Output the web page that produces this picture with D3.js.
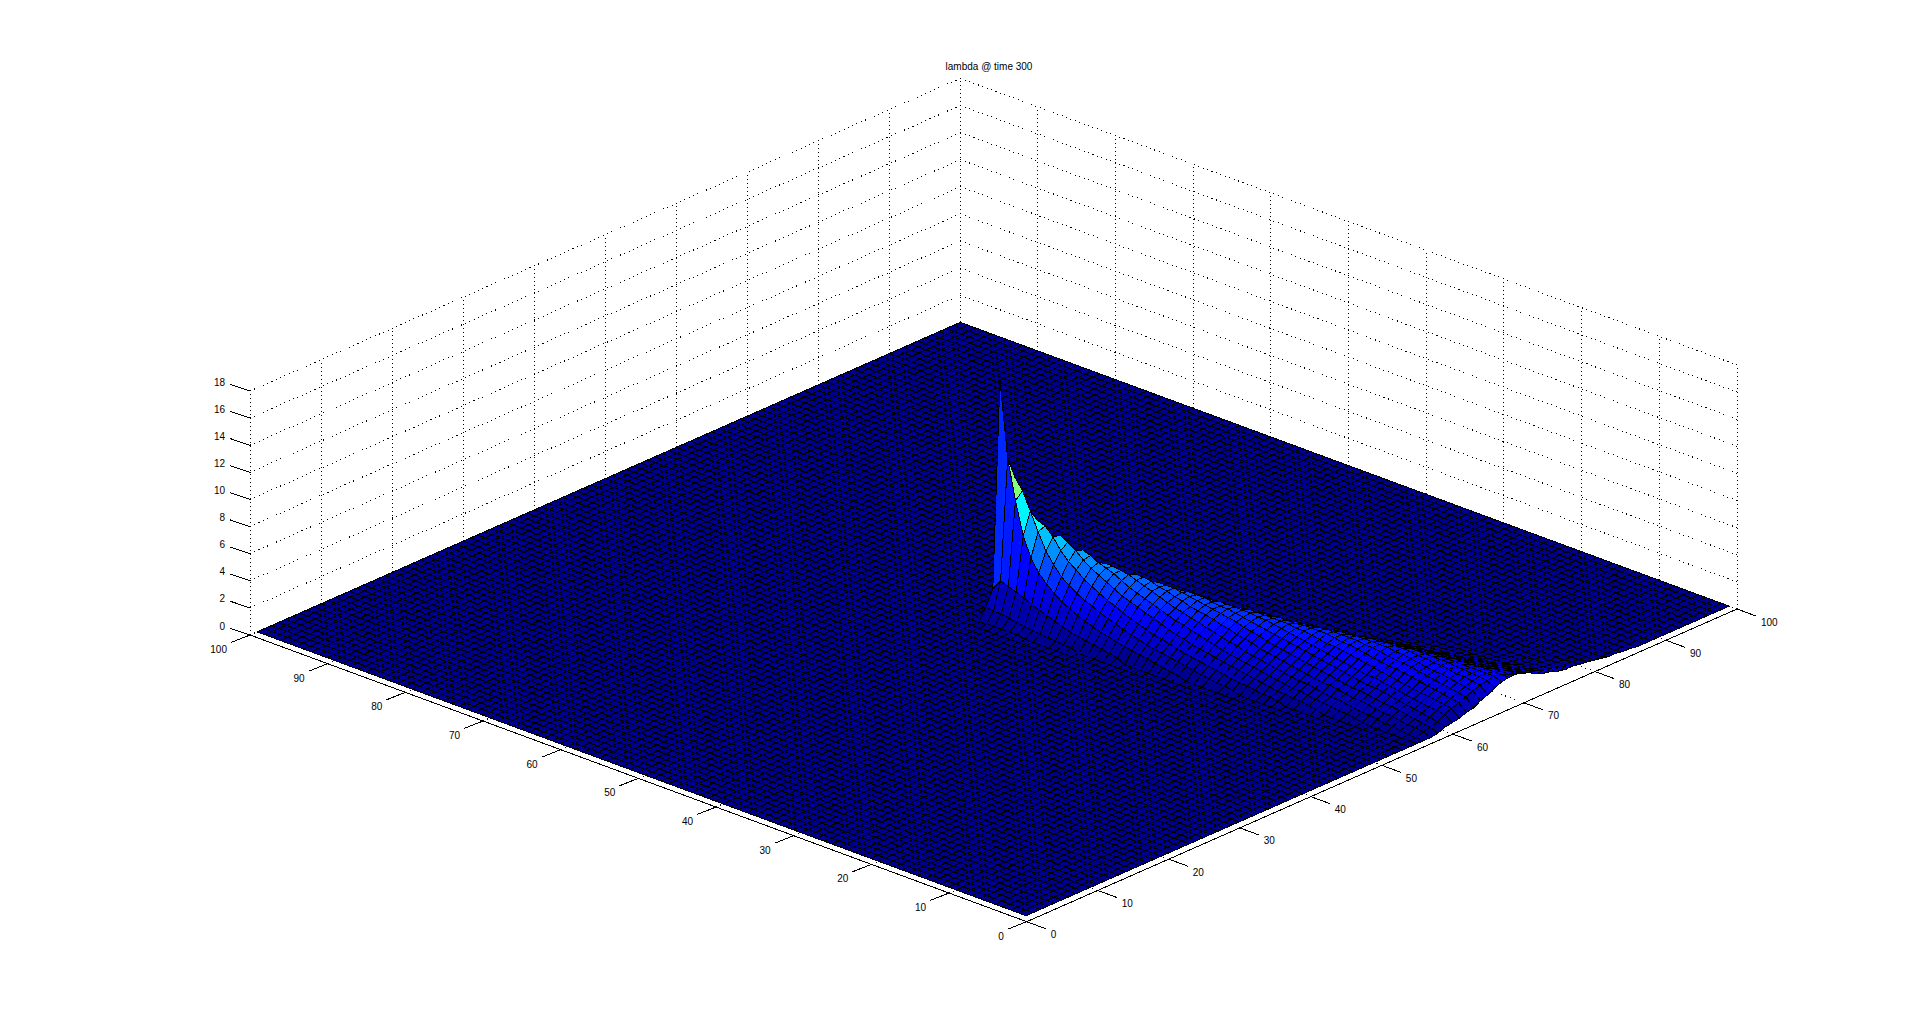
<!DOCTYPE html>
<html>
<head>
<meta charset="utf-8">
<script src="https://d3js.org/d3.v7.min.js"></script>
<style>
body { margin: 0; background: #fff; }
svg { display: block; }
text { font-family: "Liberation Sans", sans-serif; font-size: 10px; fill: #000; }
</style>
</head>
<body>
<svg id="chart" width="1920" height="1035"></svg>
<script>
const TITLE = 'lambda @ time 300';
const xy_ticks = [0, 10, 20, 30, 40, 50, 60, 70, 80, 90, 100];
const z_ticks = [0, 2, 4, 6, 8, 10, 12, 14, 16, 18];
const GRID_SIZE = 100;

// lambda, everything outside this patch is 0
// first v of the patch is 51, one row per v going down to 1
const plume_start_u = [49,49,49,49,49,49,49,50,50,50,50,50,51,51,51,51,51,52,52,52,52,52,52,52,53,53,53,53,53,53,54,54,54,54,54,55,55,55,55,56,56,56,56,56,57,57,57,57,58,58,58];
const plume_rows = [
    [0,0.9,2.0,17.2,0.6,0.1],
    [0.1,0.8,2.8,11.6,10.0,1.5,0.2],
    [0.1,0.8,2.6,8.7,9.2,4.0,0.8,0.1],
    [0.1,0.7,2.4,6.3,7.9,7.0,2.5,0.5],
    [0.1,0.6,2.2,4.9,6.6,6.8,4.5,1.2,0.2],
    [0.1,0.5,1.9,4.0,5.4,6.2,6.1,3.0,0.8,0.1],
    [0,0.4,1.7,3.4,4.6,5.4,5.8,4.8,1.8,0.4,0.1],
    [0.4,1.5,2.9,3.9,4.8,5.4,5.2,3.2,1.0,0.2],
    [0.3,1.3,2.5,3.5,4.4,4.9,5.0,4.2,2.0,0.5,0.1],
    [0.3,1.1,2.2,3.1,3.9,4.5,4.7,4.4,3.0,1.1,0.3],
    [0.2,0.9,1.9,2.8,3.6,4.2,4.5,4.4,3.5,1.8,0.6,0.1],
    [0.2,0.8,1.7,2.6,3.3,3.9,4.3,4.3,3.8,2.5,1.0,0.3],
    [0.7,1.5,2.3,3.0,3.6,4.0,4.2,4.0,3.1,1.6,0.6,0.1],
    [0.6,1.3,2.1,2.8,3.3,3.7,4.0,4.0,3.4,2.2,0.9,0.3],
    [0.5,1.2,1.9,2.5,3.1,3.5,3.8,3.9,3.6,2.7,1.4,0.5,0.1],
    [0.4,1.0,1.7,2.3,2.9,3.3,3.6,3.7,3.6,3.0,1.9,0.8,0.2],
    [0.3,0.9,1.5,2.1,2.7,3.1,3.4,3.6,3.6,3.2,2.3,1.2,0.4,0.1],
    [0.8,1.4,1.9,2.5,2.9,3.2,3.4,3.5,3.3,2.6,1.6,0.7,0.2],
    [0.7,1.2,1.7,2.3,2.7,3.0,3.3,3.4,3.3,2.8,2.0,1.0,0.4,0.1],
    [0.6,1.1,1.6,2.1,2.5,2.9,3.1,3.3,3.3,2.9,2.3,1.4,0.6,0.2],
    [0.5,1.0,1.5,1.9,2.4,2.7,3.0,3.2,3.2,3.0,2.5,1.7,0.9,0.3,0.1],
    [0.4,0.9,1.3,1.8,2.2,2.6,2.9,3.1,3.1,3.0,2.6,2.0,1.2,0.5,0.2],
    [0.3,0.8,1.2,1.6,2.1,2.4,2.8,3.0,3.1,3.0,2.7,2.2,1.5,0.8,0.3,0.1],
    [0.2,0.7,1.1,1.5,1.9,2.3,2.6,2.9,3.0,3.0,2.8,2.3,1.7,1.0,0.5,0.2],
    [0.6,1.0,1.4,1.8,2.1,2.5,2.8,2.9,3.0,2.8,2.5,1.9,1.3,0.7,0.3,0.1],
    [0.5,0.9,1.3,1.6,2.0,2.3,2.6,2.8,2.9,2.8,2.5,2.1,1.5,0.9,0.5,0.2],
    [0.4,0.8,1.2,1.5,1.9,2.2,2.5,2.7,2.9,2.8,2.6,2.2,1.7,1.1,0.6,0.3,0.1],
    [0.3,0.7,1.1,1.4,1.7,2.1,2.4,2.6,2.8,2.8,2.6,2.3,1.9,1.3,0.8,0.4,0.2],
    [0.3,0.6,1.0,1.3,1.6,1.9,2.2,2.5,2.7,2.8,2.6,2.4,2.0,1.5,1.0,0.6,0.3,0.1],
    [0.2,0.5,0.9,1.2,1.5,1.8,2.1,2.4,2.6,2.7,2.7,2.4,2.1,1.7,1.2,0.7,0.4,0.2],
    [0.5,0.8,1.1,1.4,1.7,2.0,2.3,2.5,2.7,2.7,2.5,2.2,1.8,1.4,0.9,0.5,0.3,0.1],
    [0.4,0.7,1.0,1.3,1.6,1.9,2.2,2.4,2.6,2.7,2.6,2.3,1.9,1.5,1.1,0.7,0.4,0.2],
    [0.3,0.6,0.9,1.2,1.5,1.8,2.1,2.3,2.5,2.7,2.6,2.4,2.0,1.6,1.2,0.8,0.5,0.3,0.1],
    [0.3,0.5,0.8,1.1,1.4,1.7,2.0,2.2,2.4,2.6,2.6,2.4,2.1,1.8,1.4,1.0,0.6,0.3,0.2],
    [0.2,0.5,0.7,1.0,1.3,1.6,1.9,2.1,2.4,2.5,2.6,2.5,2.2,1.9,1.5,1.1,0.7,0.4,0.2,0.1],
    [0.4,0.7,1.0,1.2,1.5,1.8,2.0,2.3,2.5,2.6,2.5,2.3,2.0,1.6,1.2,0.8,0.5,0.3,0.1],
    [0.4,0.6,0.9,1.1,1.4,1.7,1.9,2.2,2.4,2.5,2.5,2.3,2.0,1.7,1.3,0.9,0.6,0.4,0.2,0.1],
    [0.3,0.5,0.8,1.1,1.3,1.6,1.8,2.1,2.3,2.5,2.5,2.4,2.1,1.8,1.4,1.0,0.7,0.4,0.3,0.1],
    [0.2,0.5,0.7,1.0,1.2,1.5,1.7,2.0,2.2,2.4,2.5,2.4,2.1,1.8,1.5,1.1,0.8,0.5,0.3,0.2,0.1],
    [0.4,0.7,0.9,1.1,1.4,1.6,1.9,2.1,2.3,2.4,2.4,2.2,1.9,1.6,1.2,0.9,0.6,0.4,0.2,0.1],
    [0.3,0.6,0.8,1.1,1.3,1.6,1.8,2.0,2.2,2.4,2.4,2.2,1.9,1.6,1.3,1.0,0.7,0.4,0.3,0.1],
    [0.3,0.5,0.8,1.0,1.3,1.5,1.7,2.0,2.2,2.3,2.3,2.2,2.0,1.7,1.4,1.1,0.8,0.5,0.3,0.2,0.1],
    [0.2,0.4,0.7,0.9,1.2,1.4,1.6,1.9,2.1,2.2,2.3,2.2,2.0,1.7,1.4,1.1,0.8,0.6,0.4,0.2,0.1],
    [0.1,0.4,0.6,0.8,1.1,1.3,1.5,1.8,2.0,2.1,2.2,2.2,2.0,1.8,1.5,1.2,0.9,0.7,0.4,0.3,0.2,0.1],
    [0.3,0.5,0.8,1.0,1.2,1.4,1.7,1.9,2.0,2.2,2.2,2.0,1.8,1.5,1.2,1.0,0.7,0.5,0.3,0.2,0.1],
    [0.2,0.5,0.7,0.9,1.1,1.3,1.6,1.8,2.0,2.1,2.1,2.0,1.8,1.6,1.3,1.0,0.8,0.6,0.4,0.2,0.1,0.1],
    [0.2,0.4,0.6,0.8,1.0,1.3,1.5,1.7,1.9,2.0,2.1,2.0,1.9,1.6,1.4,1.1,0.9,0.6,0.4,0.3,0.2,0.1],
    [0.1,0.3,0.5,0.7,0.9,1.2,1.4,1.6,1.8,2.0,2.0,2.0,1.9,1.7,1.4,1.2,0.9,0.7,0.5,0.3,0.2,0.1,0.1],
    [0.3,0.4,0.6,0.9,1.1,1.3,1.5,1.7,1.9,2.0,2.0,1.9,1.7,1.5,1.2,1.0,0.8,0.6,0.4,0.3,0.2,0.1,0.1],
    [0.2,0.3,0.5,0.8,1.0,1.2,1.4,1.6,1.8,1.9,2.0,1.9,1.7,1.5,1.3,1.1,0.8,0.6,0.5,0.3,0.2,0.2,0.1,0.1],
    [0,0.1,0.3,0.4,0.5,0.7,0.8,1.1,1.3,1.6,1.8,1.9,1.9,1.8,1.6,1.5,1.3,1.2,1.0,0.9,0.7,0.6,0.5,0.4,0.3,0.2,0.2,0.1,0.1]
];

// fixed view of the box, the three axes are linear in pixels
const ORIGIN = [1026.7, 921.7];
const u_x = d3.scaleLinear().domain([0, 100]).range([0, 710.3]);
const u_y = d3.scaleLinear().domain([0, 100]).range([0, -312.7]);
const v_x = d3.scaleLinear().domain([0, 100]).range([0, -776.7]);
const v_y = d3.scaleLinear().domain([0, 100]).range([0, -286.7]);
const z_y = d3.scaleLinear().domain([0, 18]).range([0, -244]);

function project(u, v, z){
    return [ORIGIN[0] + u_x(u) + v_x(v), ORIGIN[1] + u_y(u) + v_y(v) + z_y(z)];
}

// height table, u and v both 1..100
let heights = [];
for(let u = 0; u <= GRID_SIZE; u++){
    heights.push(new Array(GRID_SIZE + 1).fill(0));
}
plume_rows.forEach(function(row, i){
    let v = 51 - i;
    row.forEach(function(val, j){
        heights[plume_start_u[i] + j][v] = val;
    });
});

const z_max = d3.max(plume_rows, function(row){ return d3.max(row); });
const jet = d3.scaleLinear()
    .domain([0, 0.125, 0.375, 0.625, 0.875, 1].map(function(d){ return d * z_max; }))
    .range(['rgb(0,0,143)', 'rgb(0,0,255)', 'rgb(0,255,255)', 'rgb(255,255,0)', 'rgb(255,0,0)', 'rgb(128,0,0)'])
    .interpolate(d3.interpolateRgb);

let svg = d3.select('#chart');

function draw_dotted(p0, p1, dash){
    grid_g.append('line')
        .attr('x1', p0[0]).attr('y1', p0[1])
        .attr('x2', p1[0]).attr('y2', p1[1])
        .attr('stroke', '#000')
        .attr('stroke-width', 1)
        .attr('stroke-dasharray', dash)
        .attr('shape-rendering', 'crispEdges');
}

// back walls and floor grid
let grid_g = svg.append('g');
z_ticks.forEach(function(z){
    draw_dotted(project(0, 100, z), project(100, 100, z), '1 3.7');
    draw_dotted(project(100, 100, z), project(100, 0, z), '1 3.7');
});
xy_ticks.forEach(function(t){
    draw_dotted(project(t, 0, 0), project(t, 100, 0), '1 3.7');
    draw_dotted(project(0, t, 0), project(100, t, 0), '1 3.7');
    draw_dotted(project(t, 100, 0), project(t, 100, 18), '1 3');
    draw_dotted(project(100, t, 0), project(100, t, 18), '1 3');
});

// surface, far faces first, each face takes the colour of its low corner
let faces = [];
for(let u = GRID_SIZE - 1; u >= 1; u--){
    for(let v = GRID_SIZE - 1; v >= 1; v--){
        faces.push([u, v]);
    }
}
svg.append('g')
    .selectAll('path')
    .data(faces)
    .enter().append('path')
    .attr('d', function(d){
        let u = d[0], v = d[1];
        return 'M' + [
            project(u, v, heights[u][v]),
            project(u + 1, v, heights[u + 1][v]),
            project(u + 1, v + 1, heights[u + 1][v + 1]),
            project(u, v + 1, heights[u][v + 1])
        ].join('L') + 'Z';
    })
    .attr('fill', function(d){ return jet(heights[d[0]][d[1]]); })
    .attr('stroke', '#000')
    .attr('stroke-width', 1)
    .attr('shape-rendering', 'crispEdges');

// solid axis lines and ticks
let axis_g = svg.append('g')
    .attr('stroke', '#000')
    .attr('shape-rendering', 'crispEdges');

function draw_solid(p0, p1){
    axis_g.append('line')
        .attr('x1', p0[0]).attr('y1', p0[1])
        .attr('x2', p1[0]).attr('y2', p1[1]);
}

function draw_label(x, y, anchor, label){
    svg.append('text')
        .attr('x', x).attr('y', y)
        .attr('text-anchor', anchor)
        .attr('dominant-baseline', 'central')
        .text(label);
}

draw_solid(project(0, 0, 0), project(100, 0, 0));
draw_solid(project(0, 0, 0), project(0, 100, 0));

xy_ticks.forEach(function(t){
    let pu = project(t, 0, 0);
    draw_solid(pu, [pu[0] + 19, pu[1] + 7]);
    draw_label(pu[0] + 24, pu[1] + 13, 'start', t);
    let pv = project(0, t, 0);
    draw_solid(pv, [pv[0] - 19, pv[1] + 7.5]);
    draw_label(pv[0] - 23, pv[1] + 14.5, 'end', t);
});

z_ticks.forEach(function(z){
    let p = project(0, 100, z);
    draw_solid(p, [p[0] - 20, p[1] - 6.7]);
    draw_label(p[0] - 25, p[1] - 9, 'end', z);
});

svg.append('text')
    .attr('x', 989)
    .attr('y', 70)
    .attr('text-anchor', 'middle')
    .text(TITLE);
</script>
</body>
</html>
